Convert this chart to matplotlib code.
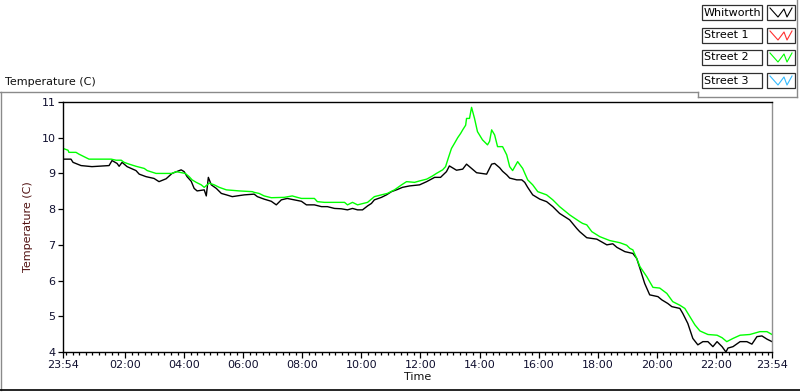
import matplotlib
matplotlib.use("Agg")
import matplotlib.pyplot as plt
from matplotlib.lines import Line2D
from matplotlib.patches import Rectangle
from matplotlib.ticker import FixedLocator

# ---- data (hours since 23:54 start, temperature C) ----
whit_t = [0.0, 0.27, 0.34, 0.61, 0.98, 1.56, 1.66, 1.83, 1.90, 2.0, 2.17, 2.47, 2.58, 2.81,
          3.08, 3.25, 3.49, 3.69, 4.0, 4.10, 4.20, 4.34, 4.44, 4.54, 4.78, 4.85, 4.92, 5.02,
          5.19, 5.36, 5.53, 5.73, 5.97, 6.14, 6.47, 6.58, 6.81, 7.05, 7.22, 7.39, 7.59, 7.83,
          8.07, 8.24, 8.51, 8.75, 8.95, 9.19, 9.42, 9.63, 9.80, 9.97, 10.14, 10.31, 10.44,
          10.54, 10.78, 10.95, 11.12, 11.32, 11.49, 11.73, 12.07, 12.31, 12.58, 12.78, 12.98,
          13.08, 13.32, 13.53, 13.66, 13.83, 14.0, 14.34, 14.51, 14.61, 14.78, 14.88, 15.02,
          15.12, 15.36, 15.53, 15.63, 15.73, 15.90, 16.14, 16.37, 16.58, 16.81, 17.15, 17.39,
          17.49, 17.73, 18.07, 18.41, 18.61, 18.75, 19.02, 19.29, 19.42, 19.53, 19.69, 19.86,
          20.14, 20.27, 20.47, 20.61, 20.88, 20.98, 21.15, 21.32, 21.49, 21.66, 21.83, 22.0,
          22.14, 22.31, 22.44, 22.51, 22.68, 22.92, 23.15, 23.32, 23.49, 23.66, 23.83, 24.0]
whit_v = [9.40, 9.40, 9.31, 9.22, 9.19, 9.22, 9.36, 9.28, 9.20, 9.31, 9.19, 9.08, 8.98, 8.91,
          8.86, 8.77, 8.85, 9.00, 9.10, 9.05, 8.91, 8.78, 8.58, 8.51, 8.54, 8.37, 8.89, 8.68,
          8.58, 8.44, 8.40, 8.35, 8.38, 8.40, 8.42, 8.35, 8.28, 8.22, 8.12, 8.26, 8.30, 8.26,
          8.22, 8.12, 8.12, 8.07, 8.07, 8.02, 8.01, 7.98, 8.02, 7.98, 7.98, 8.09, 8.16,
          8.26, 8.33, 8.40, 8.49, 8.55, 8.61, 8.65, 8.68, 8.77, 8.89, 8.89, 9.05,
          9.21, 9.09, 9.12, 9.26, 9.14, 9.02, 8.98, 9.26, 9.28, 9.16, 9.06, 8.96,
          8.87, 8.82, 8.82, 8.75, 8.61, 8.40, 8.28, 8.21, 8.07, 7.88, 7.70, 7.46,
          7.37, 7.20, 7.16, 7.00, 7.03, 6.93, 6.81, 6.76, 6.62, 6.34, 5.92, 5.60,
          5.55, 5.46, 5.36, 5.27, 5.22, 5.08, 4.80, 4.38, 4.20, 4.29, 4.29, 4.15,
          4.29, 4.15, 4.00, 4.11, 4.15, 4.29, 4.29, 4.22, 4.43, 4.45, 4.36, 4.29]

st2_t = [0.0, 0.17, 0.2, 0.44, 0.54, 0.71, 0.88, 1.63, 1.80, 1.97, 2.07, 2.24, 2.47, 2.75,
         2.85, 3.15, 3.69, 3.83, 4.14, 4.27, 4.37, 4.51, 4.68, 4.78, 4.95, 5.12, 5.29, 5.53,
         5.97, 6.41, 6.47, 6.64, 6.81, 7.05, 7.49, 7.76, 7.93, 8.07, 8.51, 8.61, 8.85, 9.53,
         9.63, 9.80, 9.97, 10.31, 10.54, 10.78, 10.98, 11.22, 11.46, 11.63, 11.90, 12.07,
         12.31, 12.51, 12.64, 12.85, 12.95, 13.05, 13.15, 13.25, 13.36, 13.46, 13.53, 13.63,
         13.66, 13.76, 13.83, 13.93, 14.03, 14.20, 14.37, 14.44, 14.51, 14.61, 14.71, 14.88,
         15.02, 15.12, 15.22, 15.39, 15.56, 15.73, 15.90, 16.07, 16.37, 16.58, 16.81, 17.15,
         17.49, 17.59, 17.73, 17.90, 18.17, 18.51, 18.85, 19.08, 19.19, 19.29, 19.42, 19.53,
         19.76, 19.97, 20.2, 20.44, 20.64, 20.88, 21.05, 21.22, 21.39, 21.56, 21.83, 22.14,
         22.31, 22.47, 22.68, 22.92, 23.25, 23.59, 23.83, 24.0]
st2_v = [9.70, 9.65, 9.59, 9.59, 9.54, 9.47, 9.40, 9.40, 9.37, 9.37, 9.31, 9.26, 9.20, 9.14,
         9.08, 9.00, 9.00, 9.05, 9.00, 8.91, 8.82, 8.75, 8.68, 8.61, 8.73, 8.68, 8.61, 8.54,
         8.51, 8.49, 8.47, 8.44, 8.37, 8.32, 8.33, 8.37, 8.33, 8.30, 8.30, 8.21, 8.19, 8.19,
         8.12, 8.19, 8.12, 8.19, 8.35, 8.40, 8.44, 8.54, 8.68, 8.77, 8.75, 8.79,
         8.84, 8.93, 9.00, 9.10, 9.19, 9.45, 9.70, 9.84, 10.0, 10.12, 10.22, 10.35,
         10.54, 10.54, 10.85, 10.54, 10.17, 9.94, 9.80, 9.90, 10.22, 10.08, 9.75, 9.75,
         9.52, 9.19, 9.08, 9.33, 9.14, 8.82, 8.68, 8.49, 8.40, 8.26, 8.07, 7.84,
         7.65, 7.60, 7.56, 7.37, 7.23, 7.12, 7.06, 6.99, 6.90, 6.86, 6.62, 6.39,
         6.11, 5.81, 5.79, 5.64, 5.41, 5.31, 5.22, 4.99, 4.76, 4.59, 4.49, 4.47,
         4.40, 4.29, 4.38, 4.47, 4.49, 4.57, 4.57, 4.49]

series_names = ["Whitworth", "Street 1", "Street 2", "Street 3"]
series_colors = ["#000000", "#ff3030", "#00ff00", "#33bbff"]

major_ticks = [0.0, 2.1, 4.1, 6.1, 8.1, 10.1, 12.1, 14.1, 16.1, 18.1, 20.1, 22.1, 24.0]
major_labels = ["23:54", "02:00", "04:00", "06:00", "08:00", "10:00", "12:00", "14:00",
                "16:00", "18:00", "20:00", "22:00", "23:54"]
y_ticks = [4, 5, 6, 7, 8, 9, 10, 11]

W, H = 800, 392
fig = plt.figure(figsize=(W / 100, H / 100), dpi=100)
fig.patch.set_facecolor("white")

def fx(x):
    return x / W

def fy(y):
    return 1 - y / H

ax = fig.add_axes([fx(63), fy(352), (772 - 63) / W, (352 - 102) / H])
ax.plot(whit_t, whit_v, color=series_colors[0], lw=1.0)
ax.plot(st2_t, st2_v, color=series_colors[2], lw=1.0)
ax.set_xlim(0, 24)
ax.set_ylim(4, 11)

ax.set_xticks(major_ticks)
ax.set_xticklabels(major_labels)
minor = [0.1 + k * 2 / 9 for k in range(0, 108) if 0.1 + k * 2 / 9 <= 24]
ax.xaxis.set_minor_locator(FixedLocator(minor))
ax.set_yticks(y_ticks)
ax.tick_params(axis="both", which="major", labelsize=8, length=3.5, width=0.9,
               direction="out", pad=2, colors="black")
ax.tick_params(axis="x", which="minor", length=2.2, width=0.9, direction="out")
ax.tick_params(axis="x", which="major", length=4)
for lab in ax.get_xticklabels() + ax.get_yticklabels():
    lab.set_color("#101030")

for s in ["left", "bottom", "top"]:
    ax.spines[s].set_color("black")
    ax.spines[s].set_linewidth(1.0)
ax.spines["right"].set_color("#909090")
ax.spines["right"].set_linewidth(1.0)

ax.set_xlabel("Time", fontsize=8, labelpad=1, color="#101010")
ax.set_ylabel("Temperature (C)", fontsize=8, labelpad=6, color="#501010")

# plot title at top-left
fig.text(fx(5), fy(87), "Temperature (C)", fontsize=8, color="#101010", ha="left", va="bottom")

# frame lines
def fline(x0, y0, x1, y1, color, lw=1.0):
    fig.add_artist(Line2D([fx(x0), fx(x1)], [fy(y0), fy(y1)], color=color, lw=lw,
                          transform=fig.transFigure))

fline(0, 92, 698, 92, "#8a8a8a")
fline(1, 92, 1, 390, "#8a8a8a")
fline(0, 390, 800, 390, "#000000", 1.2)
fline(698, 92, 698, 97, "#8a8a8a")
fline(698, 97, 797, 97, "#8a8a8a")
fline(797, 0, 797, 97, "#8a8a8a")

# legend
row_tops = [5, 28, 50, 73]
for name, col, top in zip(series_names, series_colors, row_tops):
    fig.add_artist(Rectangle((fx(702), fy(top + 15)), (762 - 702) / W, 15 / H,
                             transform=fig.transFigure, facecolor="white",
                             edgecolor="#303030", lw=0.9))
    fig.text(fx(704), fy(top + 7.5), name, fontsize=8, color="black", ha="left", va="center")
    fig.add_artist(Rectangle((fx(767), fy(top + 15)), (795 - 767) / W, 15 / H,
                             transform=fig.transFigure, facecolor="white",
                             edgecolor="#303030", lw=0.9))
    zx = [770, 778, 784, 787, 792]
    zy = [top + 3, top + 12, top + 4, top + 12, top + 3]
    fig.add_artist(Line2D([fx(v) for v in zx], [fy(v) for v in zy], color=col, lw=0.8,
                          transform=fig.transFigure))

fig.savefig("out.png", dpi=100, facecolor="white")
